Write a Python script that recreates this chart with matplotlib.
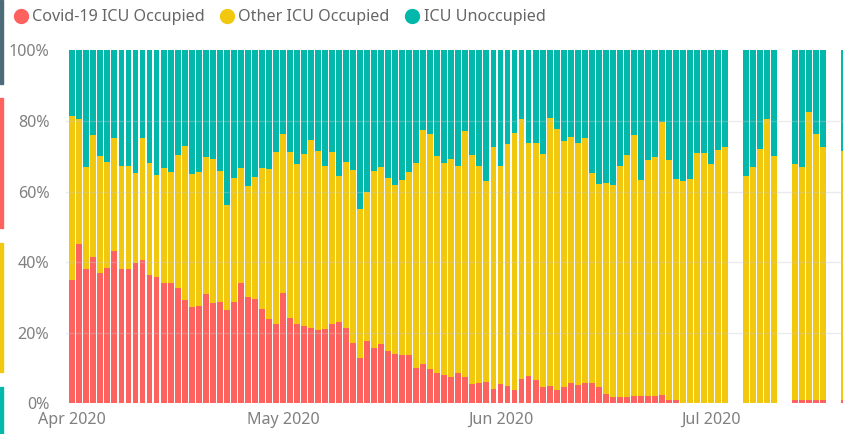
import numpy as np
import pandas as pd
import matplotlib
matplotlib.use("Agg")
import matplotlib.pyplot as plt
import matplotlib.dates as mdates
from matplotlib.lines import Line2D
from matplotlib.patches import Rectangle

plt.rcParams['font.family'] = ['Noto Sans', 'DejaVu Sans']

# daily ICU bed share (%), 1 Apr 2020 onwards; days with no report are skipped
missing_days = ['2020-07-04', '2020-07-05', '2020-07-11', '2020-07-12',
                '2020-07-18', '2020-07-19']
all_days = pd.date_range('2020-04-01', '2020-07-20', freq='D')
report_dates = all_days[~all_days.isin(pd.to_datetime(missing_days))]

covid_pct = [34.9, 45.1, 38.0, 41.5, 37.0, 38.2, 43.1, 38.1, 38.1, 39.8,
             40.5, 36.3, 35.8, 34.0, 34.2, 32.6, 29.3, 27.2, 27.6, 30.9,
             28.3, 28.8, 26.3, 28.8, 34.2, 30.1, 29.5, 26.7, 23.8, 22.4,
             31.2, 24.3, 22.5, 21.8, 21.4, 20.7, 21.0, 22.5, 23.0, 21.4,
             17.2, 12.7, 17.6, 15.8, 16.8, 14.9, 14.0, 13.6, 13.6, 9.9,
             11.1, 9.7, 8.7, 7.9, 7.5, 8.7, 7.5, 5.4, 5.8, 6.1,
             4.1, 5.4, 5.0, 3.7, 6.9, 7.8, 6.6, 4.6, 4.8, 3.7,
             4.6, 5.8, 5.2, 5.8, 5.8, 4.6, 2.5, 1.7, 1.7, 1.7,
             2.1, 2.1, 2.1, 2.1, 2.3, 0.9, 0.9, 0.0, 0.0, 0.0,
             0.0, 0.0, 0.0, 0.0,
             0.0, 0.0, 0.0, 0.0, 0.0,
             0.9, 0.9, 0.9, 0.9, 0.9,
             0.9]

other_pct = [46.5, 35.3, 28.9, 34.6, 33.1, 30.2, 32.0, 29.1, 29.1, 25.4,
             34.6, 31.9, 28.9, 32.7, 31.4, 37.8, 43.7, 37.8, 37.9, 39.0,
             40.8, 37.0, 30.0, 34.9, 32.5, 31.5, 34.5, 40.0, 42.6, 48.9,
             45.2, 46.8, 45.4, 48.8, 53.2, 50.7, 46.3, 48.8, 41.5, 47.0,
             48.8, 42.3, 42.2, 50.1, 50.1, 48.8, 47.8, 49.6, 52.0, 58.3,
             66.4, 66.5, 61.3, 60.1, 61.7, 58.6, 69.6, 65.0, 61.4, 57.0,
             68.6, 61.9, 68.4, 72.8, 73.5, 66.0, 67.2, 65.9, 76.1, 73.9,
             69.7, 69.7, 68.4, 69.3, 59.4, 57.5, 59.8, 60.1, 65.6, 68.6,
             73.9, 61.2, 66.8, 67.6, 77.3, 68.0, 62.6, 63.1, 63.4, 71.0,
             70.8, 67.7, 71.8, 72.6,
             64.4, 66.8, 72.0, 80.4, 70.1,
             66.8, 65.9, 81.6, 75.5, 71.8,
             70.7]

unoccupied_pct = [18.6, 19.6, 33.1, 23.9, 29.9, 31.6, 24.9, 32.8, 32.8, 34.8,
                  24.9, 31.8, 35.3, 33.3, 34.4, 29.6, 27.0, 35.0, 34.5, 30.1,
                  30.9, 34.2, 43.7, 36.3, 33.3, 38.4, 36.0, 33.3, 33.6, 28.7,
                  23.6, 28.9, 32.1, 29.4, 25.4, 28.6, 32.7, 28.7, 35.5, 31.6,
                  34.0, 45.0, 40.2, 34.1, 33.1, 36.3, 38.2, 36.8, 34.4, 31.8,
                  22.5, 23.8, 30.0, 32.0, 30.8, 32.7, 22.9, 29.6, 32.8, 36.9,
                  27.3, 32.7, 26.6, 23.5, 19.6, 26.2, 26.2, 29.5, 19.1, 22.4,
                  25.7, 24.5, 26.4, 24.9, 34.8, 37.9, 37.7, 38.2, 32.7, 29.7,
                  24.0, 36.7, 31.1, 30.3, 20.4, 31.1, 36.5, 36.9, 36.6, 29.0,
                  29.2, 32.3, 28.2, 27.4,
                  35.6, 33.2, 28.0, 19.6, 29.9,
                  32.3, 33.2, 17.5, 23.6, 27.3,
                  28.4]

series_names = ['Covid-19 ICU Occupied', 'Other ICU Occupied', 'ICU Unoccupied']
series_colors = ['#FD625E', '#F2C80F', '#01B8AA']

fig = plt.figure(figsize=(8.43, 4.34), dpi=100)
ax = fig.add_axes([66 / 843, 30.7 / 434, 1 - 66 / 843, 353 / 434])

x = mdates.date2num(report_dates)
covid = np.array(covid_pct)
other = np.array(other_pct)
unocc = np.array(unoccupied_pct)
bar_w = 0.84
ax.bar(x, covid, width=bar_w, color=series_colors[0], linewidth=0, zorder=2)
ax.bar(x, other, width=bar_w, bottom=covid, color=series_colors[1],
       linewidth=0, zorder=2)
ax.bar(x, unocc, width=bar_w, bottom=covid + other, color=series_colors[2],
       linewidth=0, zorder=2)

start = mdates.date2num(pd.Timestamp('2020-04-01'))
ax.set_xlim(start - 0.9, start + 109.8)
ax.set_ylim(0, 100)

for yv in [20, 40, 60, 80]:
    ax.axhline(yv, color='#c8c8c8', lw=1, alpha=0.35, zorder=3)

ax.set_yticks([0, 20, 40, 60, 80, 100])
ax.set_yticklabels([f'{v}%' for v in [0, 20, 40, 60, 80, 100]])
ax.xaxis.set_major_locator(mdates.MonthLocator())
ax.xaxis.set_major_formatter(mdates.DateFormatter('%b %Y'))
ax.tick_params(axis='both', length=0, labelsize=11.6, labelcolor='#808080')
ax.tick_params(axis='y', pad=12)
ax.tick_params(axis='x', pad=6)
for s in ax.spines.values():
    s.set_visible(False)

handles = [Line2D([], [], marker='o', linestyle='none', markersize=10,
                  markerfacecolor=c, markeredgecolor=c) for c in series_colors]
fig.legend(handles, series_names, loc='upper left', ncol=3, frameon=False,
           bbox_to_anchor=(2 / 843, 1 + 2 / 434), fontsize=11.6,
           labelcolor='#666666', handlelength=0.9, handletextpad=0.25,
           columnspacing=0.95, borderaxespad=0.3)

# coloured strips along the left border
strips = [(0, 84, '#4E6B7A'), (98, 228, '#FD625E'),
          (243, 372, '#F2C80F'), (387, 434, '#01B8AA')]
for top, bot, c in strips:
    fig.patches.append(Rectangle((0, 1 - bot / 434), 3 / 843, (bot - top) / 434,
                                 transform=fig.transFigure, color=c,
                                 figure=fig))

fig.savefig('out.png', dpi=100)
